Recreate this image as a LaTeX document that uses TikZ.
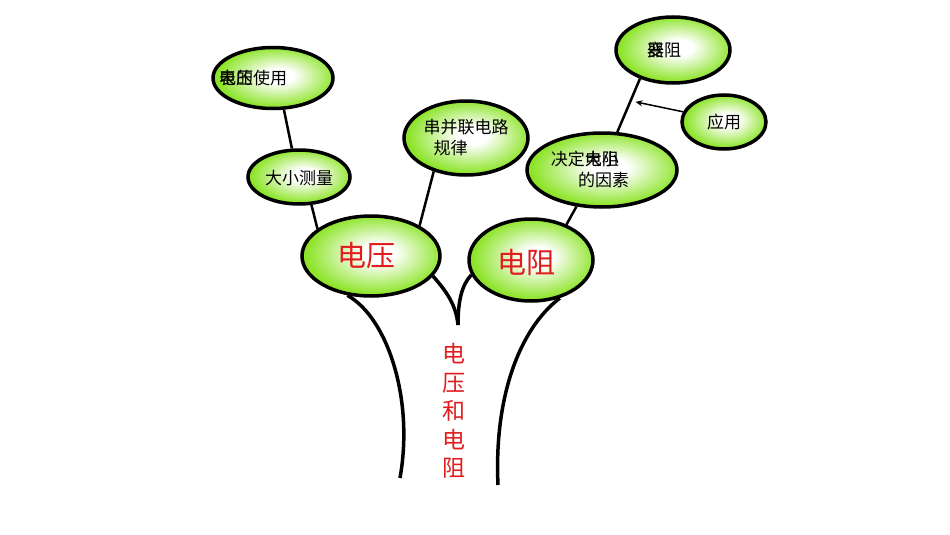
\documentclass[tikz,border=0pt]{standalone}
\usepackage[dvipsnames]{xcolor}
\usepackage{fontspec}
\usepackage{tikz}
\usetikzlibrary{shapes.geometric, arrows.meta, calc}
\setmainfont{Noto Sans CJK SC}

\definecolor{bubblegreen}{RGB}{140,228,40}
\definecolor{labelred}{RGB}{225,30,30}
\pgfdeclareradialshading{bubbleshade}{\pgfpoint{3bp}{2bp}}{color(0bp)=(white); color(6bp)=(white); color(25bp)=(bubblegreen); color(50bp)=(bubblegreen)}

\tikzset{
	bubble/.style={draw, line width=3.5pt, ellipse, inner sep=0pt, shading=bubbleshade},
	lbl/.style={inner sep=0pt, font=\fontsize{17}{21}\selectfont, align=left},
	biglbl/.style={inner sep=0pt, text=labelred, font=\fontsize{29}{33}\selectfont},
	twig/.style={line width=2.5pt},
	trunk/.style={line width=3.5pt},
}

\begin{document}
\begin{tikzpicture}[x=1pt, y=-1pt]
	\path[use as bounding box] (0,0) rectangle (950,535);

	\node[bubble, minimum width=120pt, minimum height=61pt] (meter) at (273,78) {};
	\node[bubble, minimum width=102pt, minimum height=54pt] (measure) at (299,177) {};
	\node[bubble, minimum width=138pt, minimum height=80pt] (volt) at (371,256) {};
	\node[bubble, minimum width=124pt, minimum height=74pt] (series) at (466,138) {};
	\node[bubble, minimum width=124pt, minimum height=82pt] (resist) at (531,260) {};
	\node[bubble, minimum width=150pt, minimum height=74pt] (factor) at (602,170) {};
	\node[bubble, minimum width=114pt, minimum height=66pt] (rheo) at (673,50) {};
	\node[bubble, minimum width=84pt, minimum height=54pt] (use) at (724,122) {};

	\node[lbl] (meterlbl) at (253,78) {\rlap{电压}表的使用};
	\node[lbl] (measurelbl) at (299,178) {大小测量};
	\node[biglbl] (voltlbl) at (366,256) {电压};
	\node[lbl] (serieslbl) at (466,138) {串并联电路\\\hspace{0.6em}规律};
	\node[biglbl] (resistlbl) at (526,262) {电阻};
	\node[lbl] (factorlbl) at (590,169) {决定\rlap{电阻}大小\\\hspace{1.6em}的因素};
	\node[lbl] (rheolbl) at (664,50) {\rlap{器}变阻};
	\node[lbl] (uselbl) at (724,122) {应用};
	\node[inner sep=0pt, text=labelred, align=center, font=\fontsize{23}{28.5}\selectfont] (title) at (454,411) {电\\压\\和\\电\\阻};

	\draw[twig] (meter.-71) -- (measure.104);
	\draw[twig] (measure.-66) -- (volt.153);
	\draw[twig] (series.-134) -- (volt.32);
	\draw[twig] (factor.-125) -- (resist.45);
	\draw[twig] (factor.68) -- (rheo.-139);
	\coordinate (hit) at ($(factor.68)!0.585!(rheo.-139)$);
	\draw[line width=1.5pt, -{Stealth[length=7pt, width=6pt]}, shorten >=5pt] (use.166) -- (hit);

	\coordinate (fork) at (458,325);
	\coordinate (rootl) at (400,478);
	\coordinate (rootr) at (498,485);
	\draw[trunk] (volt.-121) .. controls (388,318) and (414,400) .. (rootl);
	\draw[trunk] (volt.-18) .. controls (447,292) and (456,305) .. (fork);
	\draw[trunk] (resist.-166) .. controls (462,285) and (458,300) .. (fork);
	\draw[trunk] (resist.-53) .. controls (518,330) and (494,400) .. (rootr);
\end{tikzpicture}
\end{document}
